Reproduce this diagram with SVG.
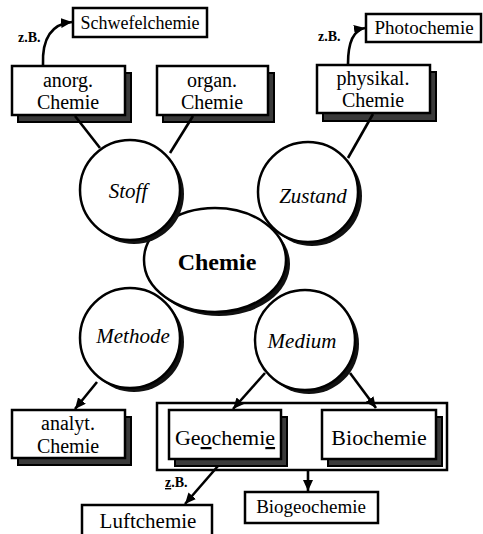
<svg xmlns="http://www.w3.org/2000/svg" width="483" height="534" viewBox="0 0 483 534" font-family="'Liberation Serif', 'DejaVu Serif', serif">
<style>
text{font-family:'Liberation Serif','DejaVu Serif',serif;fill:#000}
.box{fill:#fff;stroke:#000;stroke-width:2.5}
.sh{fill:#3a3a3a;stroke:#000;stroke-width:2}
.csh{fill:#111}
.node{fill:#fff;stroke:#000;stroke-width:2.5}
.t{font-size:20px;text-anchor:middle}
.s{font-size:18px;text-anchor:middle}
.i{font-size:21px;font-style:italic;text-anchor:middle}
.zb{font-size:14px;font-weight:bold}
.ln{fill:none;stroke:#000;stroke-width:2.6}
</style>
<defs>
<marker id="ah" markerUnits="userSpaceOnUse" markerWidth="12" markerHeight="10" refX="11" refY="5" orient="auto">
<path d="M0,0 L11,5 L0,10 Z" fill="#000"/>
</marker>
</defs>

<g id="node-chemie">
<ellipse class="csh" cx="219" cy="264" rx="71" ry="52"/>
<ellipse class="node" cx="215" cy="260" rx="71" ry="52"/>
<text x="217" y="270" font-family="'Liberation Serif', serif" style="font-size:24px;font-weight:bold;text-anchor:middle">Chemie</text>
</g>

<g id="node-stoff">
<circle class="csh" cx="134" cy="194" r="50"/>
<circle class="node" cx="130" cy="190" r="50"/>
<text class="i" x="128" y="198">Stoff</text>
</g>

<g id="node-zustand">
<circle class="csh" cx="312" cy="196" r="50"/>
<circle class="node" cx="308" cy="192" r="50"/>
<text class="i" x="313" y="203">Zustand</text>
</g>

<g id="node-methode">
<circle class="csh" cx="134" cy="342" r="50"/>
<circle class="node" cx="130" cy="338" r="50"/>
<text class="i" x="133" y="343">Methode</text>
</g>

<g id="node-medium">
<circle class="csh" cx="309" cy="344" r="50"/>
<circle class="node" cx="305" cy="340" r="50"/>
<text class="i" x="302" y="348">Medium</text>
</g>

<g id="node-anorg">
<rect class="sh" x="18" y="73" width="113" height="49"/>
<rect class="box" x="12" y="66" width="113" height="49"/>
<text class="t" x="68" y="87">anorg.</text>
<text class="t" x="68" y="109">Chemie</text>
</g>

<g id="node-organ">
<rect class="sh" x="163" y="73" width="111" height="49"/>
<rect class="box" x="157" y="66" width="111" height="49"/>
<text class="t" x="212" y="87">organ.</text>
<text class="t" x="212" y="109">Chemie</text>
</g>

<g id="node-physikal">
<rect class="sh" x="323" y="72" width="113" height="49"/>
<rect class="box" x="317" y="65" width="113" height="48"/>
<text class="t" x="373" y="85">physikal.</text>
<text class="t" x="373" y="107">Chemie</text>
</g>

<g id="node-schwefelchemie">
<rect class="box" x="73" y="8" width="134" height="29"/>
<text class="s" x="140" y="29">Schwefelchemie</text>
</g>

<g id="node-photochemie">
<rect class="box" x="366" y="14" width="115" height="28"/>
<text class="s" x="424" y="34" style="font-size:19px">Photochemie</text>
</g>

<g id="node-analyt">
<rect class="sh" x="18" y="417" width="113" height="48"/>
<rect class="box" x="12" y="410" width="113" height="48"/>
<text class="t" x="68" y="430">analyt.</text>
<text class="t" x="68" y="453">Chemie</text>
</g>

<g id="node-group">
<rect class="box" x="157" y="403" width="290" height="67"/>
</g>

<g id="node-geochemie">
<rect class="sh" x="175" y="417" width="112" height="49"/>
<rect class="box" x="169" y="410" width="112" height="49"/>
<text x="225" y="445" style="font-size:22px;text-anchor:middle">Ge<tspan text-decoration="underline">o</tspan>chemi<tspan text-decoration="underline">e</tspan></text>
</g>

<g id="node-biochemie">
<rect class="sh" x="328" y="417" width="114" height="49"/>
<rect class="box" x="322" y="410" width="114" height="49"/>
<text x="379" y="445" style="font-size:22px;text-anchor:middle">Biochemie</text>
</g>

<g id="node-biogeochemie">
<rect class="box" x="245" y="492" width="133" height="31"/>
<text class="s" x="311" y="513" style="font-size:19px">Biogeochemie</text>
</g>

<g id="node-luftchemie">
<rect class="box" x="82" y="505" width="130" height="31"/>
<text class="s" x="148" y="528" style="font-size:21px">Luftchemie</text>
</g>

<g id="connectors">
<path class="ln" d="M75,116 L100,148"/>
<path class="ln" d="M193,116 L170,153"/>
<path class="ln" d="M373,114 L348,158"/>
<path class="ln" d="M43,65 C42,40 50,24 72,22" marker-end="url(#ah)"/>
<path class="ln" d="M348,64 C348,42 353,30 365,28" marker-end="url(#ah)"/>
<path class="ln" d="M97,382 L75,409" marker-end="url(#ah)"/>
<path class="ln" d="M265,373 L233,409" marker-end="url(#ah)"/>
<path class="ln" d="M350,373 L376,408" marker-end="url(#ah)"/>
<path class="ln" d="M218,466 L185,504" marker-end="url(#ah)"/>
<path class="ln" d="M308,471 L308,491" marker-end="url(#ah)"/>
<text class="zb" x="18" y="42">z.B.</text>
<text class="zb" x="318" y="41">z.B.</text>
<text class="zb" x="165" y="487"><tspan text-decoration="underline">z</tspan>.B.</text>
</g>
</svg>
